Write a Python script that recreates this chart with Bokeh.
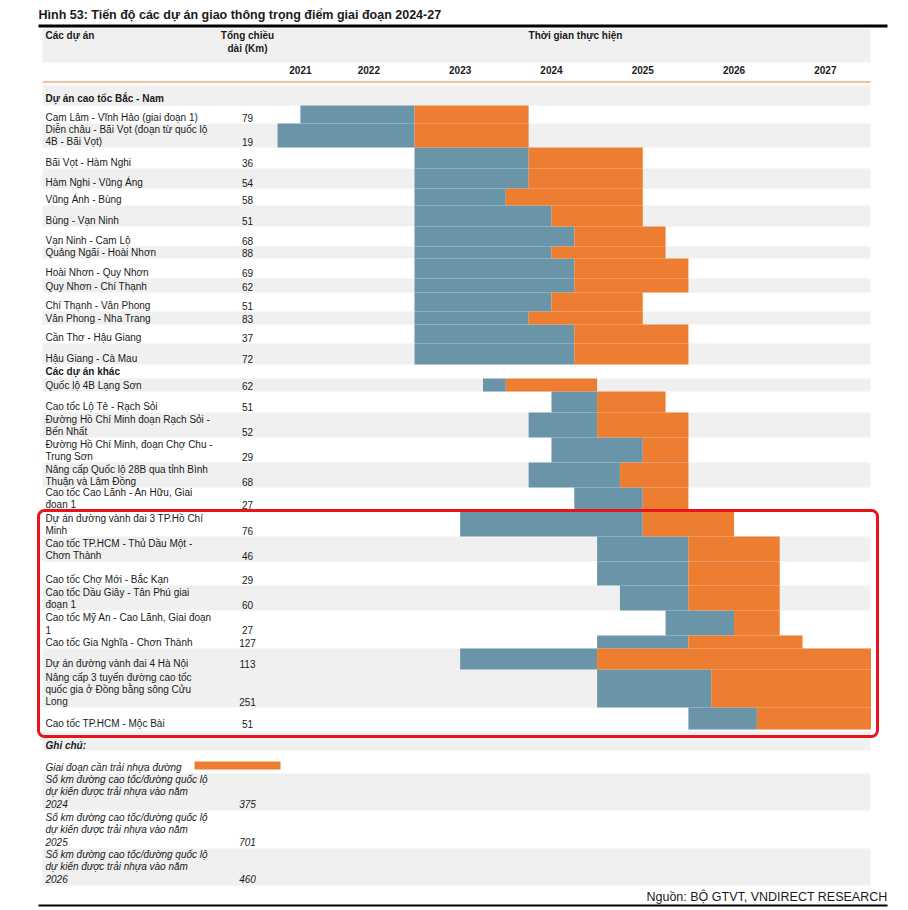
from bokeh.plotting import figure
from bokeh.models import Range1d, BoxAnnotation
from bokeh.core.properties import value
from bokeh.embed import file_html
from bokeh.resources import INLINE

# ---------------- data ----------------
title = "Hình 53: Tiến độ các dự án giao thông trọng điểm giai đoạn 2024-27"
col_project = "Các dự án"
col_length = "Tổng chiều\ndài (Km)"
col_time = "Thời gian thực hiện"
group_names = ["Dự án cao tốc Bắc - Nam", "Các dự án khác"]

projects = [
    "Cam Lâm - Vĩnh Hảo (giai đoạn 1)",
    "Diễn châu - Bãi Vọt (đoạn từ quốc lộ\n4B - Bãi Vọt)",
    "Bãi Vọt - Hàm Nghi",
    "Hàm Nghi - Vũng Áng",
    "Vũng Ánh - Bùng",
    "Bùng - Vạn Ninh",
    "Vạn Ninh - Cam Lộ",
    "Quảng Ngãi - Hoài Nhơn",
    "Hoài Nhơn - Quy Nhơn",
    "Quy Nhơn - Chí Thạnh",
    "Chí Thạnh - Vân Phong",
    "Vân Phong - Nha Trang",
    "Cần Thơ - Hậu Giang",
    "Hậu Giang - Cà Mau",
    "Quốc lộ 4B Lạng Sơn",
    "Cao tốc Lộ Tẻ - Rạch Sỏi",
    "Đường Hồ Chí Minh đoạn Rạch Sỏi -\nBến Nhất",
    "Đường Hồ Chí Minh, đoạn Chợ Chu -\nTrung Sơn",
    "Nâng cấp Quốc lộ 28B qua tỉnh Bình\nThuận và Lâm Đồng",
    "Cao tốc Cao Lãnh - An Hữu, Giai\nđoạn 1",
    "Dự án đường vành đai 3 TP.Hồ Chí\nMinh",
    "Cao tốc TP.HCM - Thủ Dầu Một -\nChơn Thành",
    "Cao tốc Chợ Mới - Bắc Kạn",
    "Cao tốc Dầu Giây - Tân Phú giai\nđoạn 1",
    "Cao tốc Mỹ An - Cao Lãnh, Giai đoạn\n1",
    "Cao tốc Gia Nghĩa - Chơn Thành",
    "Dự án đường vành đai 4 Hà Nội",
    "Nâng cấp 3 tuyến đường cao tốc\nquốc gia ở Đồng bằng sông Cửu\nLong",
    "Cao tốc TP.HCM - Mộc Bài",
]
project_group = [0] * 14 + [1] * 15
length_km = [79, 19, 36, 54, 58, 51, 68, 88, 69, 62, 51, 83, 37, 72,
             62, 51, 52, 29, 68, 27, 76, 46, 29, 60, 27, 127, 113, 251, 51]
# construction phase start (blue) / paving phase (orange) start and end, in years
build_start = [2021.75, 2021.5, 2023, 2023, 2023, 2023, 2023, 2023, 2023, 2023, 2023, 2023, 2023, 2023,
               2023.75, 2024.5, 2024.25, 2024.5, 2024.25, 2024.75, 2023.5, 2025, 2025, 2025.25,
               2025.75, 2025, 2023.5, 2025, 2026]
paving_start = [2023, 2023, 2024.25, 2024.25, 2024, 2024.5, 2024.75, 2024.5, 2024.75, 2024.75,
                2024.5, 2024.25, 2024.75, 2024.75,
                2024, 2025, 2025, 2025.5, 2025.25, 2025.5, 2025.5, 2026, 2026, 2026,
                2026.5, 2026, 2025, 2026.25, 2026.75]
paving_end = [2024.25, 2024.25, 2025.5, 2025.5, 2025.5, 2025.5, 2025.75, 2025.75, 2026, 2026,
              2025.5, 2025.5, 2026, 2026,
              2025, 2025.75, 2026, 2026, 2026, 2026, 2026.5, 2027, 2027, 2027,
              2027, 2027.25, 2028, 2028, 2028]

years = [2021, 2022, 2023, 2024, 2025, 2026, 2027]
timeline_start = 2021.5
timeline_end = 2028.0

note_title = "Ghi chú:"
legend_label = "Giai đoạn cần trải nhựa đường"
note_labels = [
    "Số km đường cao tốc/đường quốc lộ\ndự kiến được trải nhựa vào năm\n2024",
    "Số km đường cao tốc/đường quốc lộ\ndự kiến được trải nhựa vào năm\n2025",
    "Số km đường cao tốc/đường quốc lộ\ndự kiến được trải nhựa vào năm\n2026",
]
note_values = [375, 701, 460]
source = "Nguồn: BỘ GTVT, VNDIRECT RESEARCH"

# ---------------- layout / style ----------------
W, H = 906, 908
FONT = value("Liberation Sans")
TXT = "#1a1a1a"
GRAY = "#f0f0f0"
BLUE = "#6a95a9"
ORANGE = "#ec7d31"
TABLE_L, TABLE_R = 42, 870
NAME_X, KM_X = 45, 247
LINE_H = 12

group_header_rows = [(85, 105, True), (364, 378, False)]
row_heights = [18, 24, 21, 20, 17, 21, 20, 12, 20, 14, 19, 13, 19, 21,
               13, 21, 25, 25, 25, 23, 26, 25, 24, 25, 25, 13, 21, 38, 22]
row_band = [0, 1, 0, 1, 0, 1, 0, 1, 0, 1, 0, 1, 0, 1,
            1, 0, 1, 0, 1, 0, 0, 1, 0, 1, 0, 0, 1, 1, 0]

# compute row tops/bottoms
row_top, row_bot = [], []
cur = None
for i, h in enumerate(row_heights):
    if i == 0:
        cur = group_header_rows[0][1]
    elif project_group[i] != project_group[i - 1]:
        cur = group_header_rows[project_group[i]][1]
    row_top.append(cur)
    row_bot.append(cur + h)
    cur += h

p = figure(width=W, height=H, x_range=Range1d(0, W), y_range=Range1d(H, 0),
           output_backend="svg", toolbar_location=None, min_border=0,
           x_axis_location=None, y_axis_location=None)
p.grid.visible = False
p.outline_line_color = None
p.background_fill_color = "white"
p.border_fill_color = "white"

# time scale: screen x = 414 + 91.3 * (t - 2023)
px_per_year = 91.3
x_2023 = 414
t_left = 2023 - x_2023 / px_per_year
t_right = 2023 + (W - x_2023) / px_per_year
p.extra_x_ranges = {"time": Range1d(t_left, t_right)}


def text(xs, ys, ts, size="10px", align="left", style="normal", color=TXT, **kw):
    p.text(x=xs, y=ys, text=ts, text_font=FONT, text_font_size=size, text_align=align,
           text_baseline="middle", text_font_style=style, text_color=color, **kw)


# --- title and top rule
text([38], [14], [title], size="12.5px", style="bold")
p.quad(left=[38], right=[887], top=[24], bottom=[27], fill_color="black", line_color=None)

# --- header band
p.quad(left=[TABLE_L], right=[TABLE_R], top=[28], bottom=[62], fill_color=GRAY, line_color=None)
text([NAME_X], [35], [col_project], style="bold")
hl = col_length.split("\n")
text([KM_X] * len(hl), [35 + (LINE_H + 1) * k for k in range(len(hl))], hl, align="center", style="bold")
text([575], [35], [col_time], align="center", style="bold")

# year labels (centre of the visible part of each year)
yc = [(max(y, timeline_start) + y + 1) / 2 for y in years]
text(yc, [69] * len(years), [str(y) for y in years], align="center", style="bold",
     x_range_name="time")
p.quad(left=[TABLE_L], right=[TABLE_R], top=[81], bottom=[82], fill_color="#e8843c", line_color=None)

# --- group headers
for gi, (t, b, band) in enumerate(group_header_rows):
    if band:
        p.quad(left=[TABLE_L], right=[TABLE_R], top=[t], bottom=[b], fill_color=GRAY, line_color=None)
    text([NAME_X], [b - 7], [group_names[gi]], style="bold")

# --- row bands
bt = [row_top[i] for i in range(len(projects)) if row_band[i]]
bb = [row_bot[i] for i in range(len(projects)) if row_band[i]]
p.quad(left=[TABLE_L] * len(bt), right=[TABLE_R] * len(bt), top=bt, bottom=bb,
       fill_color=GRAY, line_color=None)

# --- gantt bars
p.quad(left=build_start, right=paving_start, top=row_top, bottom=row_bot,
       fill_color=BLUE, line_color=None, x_range_name="time")
p.quad(left=paving_start, right=paving_end, top=row_top, bottom=row_bot,
       fill_color=ORANGE, line_color=None, x_range_name="time")

# --- row texts
nx, ny, nt = [], [], []
for i, name in enumerate(projects):
    lines = name.split("\n")
    n = len(lines)
    for k, ln in enumerate(lines):
        nx.append(NAME_X)
        ny.append(row_bot[i] - 6 - LINE_H * (n - 1 - k))
        nt.append(ln)
text(nx, ny, nt)
text([KM_X] * len(length_km), [b - 6 for b in row_bot], [str(v) for v in length_km], align="center")

# --- notes
p.quad(left=[TABLE_L], right=[TABLE_R], top=[731], bottom=[750], fill_color=GRAY, line_color=None)
text([NAME_X], [745], [note_title], style="bold italic")
text([NAME_X], [767], [legend_label], style="italic")
p.quad(left=[194], right=[280], top=[761], bottom=[769], fill_color=ORANGE, line_color=None)
note_tops = [773, 810, 848]
note_h = [37, 38, 37]
for j, lab in enumerate(note_labels):
    t = note_tops[j]
    b = t + note_h[j]
    if j % 2 == 0:
        p.quad(left=[TABLE_L], right=[TABLE_R], top=[t], bottom=[b], fill_color=GRAY, line_color=None)
    lines = lab.split("\n")
    n = len(lines)
    text([NAME_X] * n, [b - 7 - LINE_H * (n - 1 - k) for k in range(n)], lines, style="italic")
    text([KM_X], [b - 7], [str(note_values[j])], align="center", style="italic")

# --- source and bottom rule
text([887], [896], [source], size="12.5px", align="right")
p.quad(left=[38], right=[887], top=[904], bottom=[906], fill_color="black", line_color=None)

# --- highlight box
p.add_layout(BoxAnnotation(left=38, right=877, top=510, bottom=736, fill_alpha=0,
                           line_color="#e8141b", line_alpha=1.0, line_width=3,
                           border_radius=6, level="overlay"))

open("out.html", "w").write(file_html(p, INLINE))
